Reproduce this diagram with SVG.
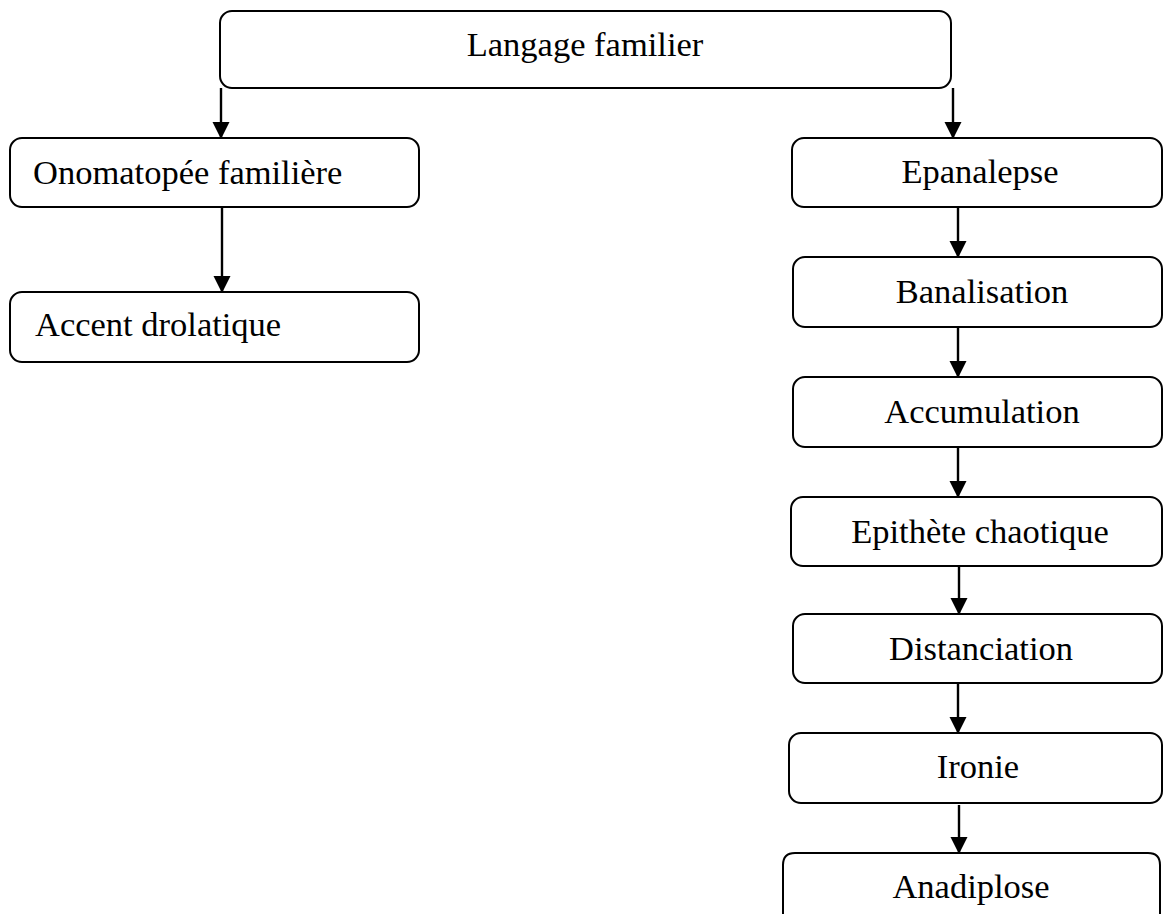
<svg xmlns="http://www.w3.org/2000/svg" width="1164" height="915" viewBox="0 0 1164 915">
<style>
.box{fill:#fff;stroke:#000;stroke-width:2}
.lbl{font-family:"Liberation Serif","DejaVu Serif",serif;font-size:34.5px;fill:#000}
.mid{text-anchor:middle}
.conn{stroke:#000;stroke-width:2.4;fill:none;marker-end:url(#ah)}
</style>
<defs>
<marker id="ah" markerUnits="userSpaceOnUse" markerWidth="17" markerHeight="18" viewBox="0 0 17 18" refX="16" refY="9" orient="auto">
<path d="M0,0.5 L17,9 L0,17.5 Z" fill="#000"/>
</marker>
</defs>
<rect width="1164" height="915" fill="#fff"/>
<g id="connectors">
<line class="conn" x1="221" y1="88" x2="221" y2="138"/>
<line class="conn" x1="953" y1="88" x2="953" y2="138"/>
<line class="conn" x1="222" y1="207" x2="222" y2="292"/>
<line class="conn" x1="958" y1="207" x2="958" y2="257"/>
<line class="conn" x1="958" y1="327" x2="958" y2="377"/>
<line class="conn" x1="958" y1="447" x2="958" y2="497"/>
<line class="conn" x1="959" y1="566" x2="959" y2="614"/>
<line class="conn" x1="958" y1="683" x2="958" y2="733"/>
<line class="conn" x1="959" y1="805" x2="959" y2="853"/>
</g>
<g id="n-langage">
<rect class="box" x="220" y="11" width="731" height="77" rx="12"/>
<text class="lbl mid" x="585" y="56">Langage familier</text>
</g>
<g id="n-onomatopee">
<rect class="box" x="10" y="138" width="409" height="69" rx="12"/>
<text class="lbl" x="33" y="184">Onomatopée familière</text>
</g>
<g id="n-accent">
<rect class="box" x="10" y="292" width="409" height="70" rx="12"/>
<text class="lbl" x="35" y="336">Accent drolatique</text>
</g>
<g id="n-epanalepse">
<rect class="box" x="792" y="138" width="370" height="69" rx="12"/>
<text class="lbl mid" x="980" y="183">Epanalepse</text>
</g>
<g id="n-banalisation">
<rect class="box" x="793" y="257" width="369" height="70" rx="12"/>
<text class="lbl mid" x="982" y="303">Banalisation</text>
</g>
<g id="n-accumulation">
<rect class="box" x="793" y="377" width="369" height="70" rx="12"/>
<text class="lbl mid" x="982" y="423">Accumulation</text>
</g>
<g id="n-epithete">
<rect class="box" x="791" y="497" width="371" height="69" rx="12"/>
<text class="lbl mid" x="980" y="543">Epithète chaotique</text>
</g>
<g id="n-distanciation">
<rect class="box" x="793" y="614" width="369" height="69" rx="12"/>
<text class="lbl mid" x="981" y="660">Distanciation</text>
</g>
<g id="n-ironie">
<rect class="box" x="789" y="733" width="373" height="70" rx="12"/>
<text class="lbl mid" x="978" y="778">Ironie</text>
</g>
<g id="n-anadiplose">
<path class="box" d="M783,914 L783,865 Q783,853 795,853 L1148,853 Q1160,853 1160,865 L1160,914"/>
<text class="lbl mid" x="971" y="898">Anadiplose</text>
</g>
</svg>
